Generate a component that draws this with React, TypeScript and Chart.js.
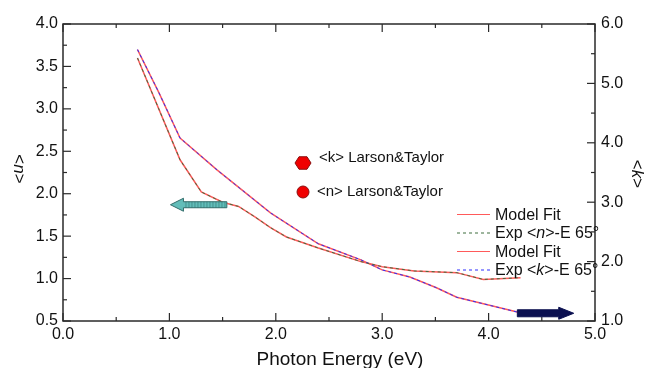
import React, { useEffect, useRef } from "react";
import { Chart, registerables } from "chart.js";
Chart.register(...registerables);

// ---- data ----
const energyN = [0.7, 0.9, 1.1, 1.3, 1.5, 1.65, 1.8, 1.95, 2.1, 2.4, 2.8, 3.0, 3.3, 3.7, 3.95, 4.3];
const nExp = [3.6, 3.0, 2.4, 2.02, 1.9, 1.85, 1.73, 1.6, 1.49, 1.36, 1.2, 1.14, 1.09, 1.07, 0.99, 1.01];
const nFit = [3.6, 3.0, 2.4, 2.02, 1.9, 1.85, 1.73, 1.6, 1.49, 1.36, 1.2, 1.14, 1.09, 1.07, 0.99, 1.01];
const energyK = [0.7, 0.9, 1.1, 1.45, 1.95, 2.4, 2.8, 3.0, 3.26, 3.51, 3.7, 4.27];
const kExp = [5.57, 4.85, 4.08, 3.54, 2.82, 2.3, 2.03, 1.86, 1.74, 1.56, 1.4, 1.15];
const kFit = [5.57, 4.85, 4.08, 3.54, 2.82, 2.3, 2.03, 1.86, 1.74, 1.56, 1.4, 1.15];

const xRange = [0, 5];
const nRange = [0.5, 4.0];
const kRange = [1.0, 6.0];

const legendLabels = ["Model Fit", "Exp <n>-E 65°", "Model Fit", "Exp <k>-E 65°"];
const refLabels = ["<k> Larson&Taylor", "<n> Larson&Taylor"];

const FONT = '"Liberation Sans", Arial, Helvetica, sans-serif';
const RED = "#ff5a5a";
const GREEN = "#3f6f3f";
const BLUE = "#2e2eff";

function drawMixed(ctx: CanvasRenderingContext2D, parts: [string, boolean][], x: number, y: number, size: number) {
  let cx = x;
  for (const [t, it] of parts) {
    ctx.font = `${it ? "italic " : ""}${size}px ${FONT}`;
    ctx.fillText(t, cx, y);
    cx += ctx.measureText(t).width;
  }
  return cx - x;
}
function mixedWidth(ctx: CanvasRenderingContext2D, parts: [string, boolean][], size: number) {
  let w = 0;
  for (const [t, it] of parts) {
    ctx.font = `${it ? "italic " : ""}${size}px ${FONT}`;
    w += ctx.measureText(t).width;
  }
  return w;
}
function splitItalic(s: string): [string, boolean][] {
  const m = s.match(/^(.*<)([nk])(>.*)$/);
  if (!m) return [[s, false]];
  return [[m[1], false], [m[2], true], [m[3], false]];
}

const decorPlugin = {
  id: "decor",
  afterDraw(chart: any) {
    const ctx: CanvasRenderingContext2D = chart.ctx;
    const { left, right, top, bottom } = chart.chartArea;
    const xs = chart.scales.x, ys = chart.scales.y, y2 = chart.scales.y2;
    ctx.save();
    const line = (a: number, b: number, c: number, d: number) => {
      ctx.beginPath(); ctx.moveTo(a, b); ctx.lineTo(c, d); ctx.stroke();
    };
    // frame
    ctx.strokeStyle = "#2a2a2a";
    ctx.lineWidth = 1.5;
    ctx.strokeRect(left, top, right - left, bottom - top);
    ctx.lineWidth = 1.2;
    for (let v = xRange[0]; v <= xRange[1] + 1e-6; v += 0.5) {
      const px = xs.getPixelForValue(v);
      const L = Math.abs(v - Math.round(v)) < 1e-6 ? 8 : 4;
      line(px, bottom, px, bottom - L);
      line(px, top, px, top + L);
    }
    for (let v = nRange[0]; v <= nRange[1] + 1e-6; v += 0.25) {
      const py = ys.getPixelForValue(v);
      const L = Math.abs(v * 2 - Math.round(v * 2)) < 1e-6 ? 8 : 4;
      line(left, py, left + L, py);
    }
    for (let v = kRange[0]; v <= kRange[1] + 1e-6; v += 0.5) {
      const py = y2.getPixelForValue(v);
      const L = Math.abs(v - Math.round(v)) < 1e-6 ? 8 : 4;
      line(right, py, right - L, py);
    }

    ctx.fillStyle = "#111";
    ctx.textBaseline = "alphabetic";
    // x title
    ctx.font = `19px ${FONT}`;
    ctx.textAlign = "center";
    ctx.fillText("Photon Energy (eV)", 340, 365);
    ctx.textAlign = "left";
    // y titles (rotated clockwise)
    const yTitle = (txt: string, cx: number, cy: number) => {
      ctx.save();
      ctx.translate(cx, cy);
      ctx.rotate(Math.PI / 2);
      ctx.textBaseline = "middle";
      const parts = splitItalic(txt);
      const w = mixedWidth(ctx, parts, 17);
      drawMixed(ctx, parts, -w / 2, 0, 17);
      ctx.restore();
    };
    yTitle("<n>", 19, 169);
    yTitle("<k>", 637, 174);

    // legend
    const rowsY = [214.5, 233, 251.5, 270];
    const styles = [
      { c: RED, d: [] as number[] },
      { c: GREEN, d: [3, 3] },
      { c: RED, d: [] as number[] },
      { c: BLUE, d: [3, 3] },
    ];
    ctx.textBaseline = "middle";
    legendLabels.forEach((lab, i) => {
      ctx.strokeStyle = styles[i].c;
      ctx.lineWidth = 1;
      ctx.setLineDash(styles[i].d);
      line(457, rowsY[i], 490, rowsY[i]);
      ctx.setLineDash([]);
      ctx.fillStyle = "#111";
      drawMixed(ctx, splitItalic(lab), 495, rowsY[i] + 1, 16);
    });

    // Larson & Taylor markers
    const hx = 303, hy = 163, hr = 8;
    ctx.beginPath();
    for (let i = 0; i < 6; i++) {
      const a = (Math.PI / 3) * i;
      const px = hx + hr * Math.cos(a), py = hy + hr * 0.9 * Math.sin(a);
      if (i === 0) ctx.moveTo(px, py); else ctx.lineTo(px, py);
    }
    ctx.closePath();
    ctx.fillStyle = "#f00000";
    ctx.fill();
    ctx.strokeStyle = "#8a1010";
    ctx.lineWidth = 1;
    ctx.stroke();
    ctx.beginPath();
    ctx.arc(303, 192, 6, 0, Math.PI * 2);
    ctx.fill();
    ctx.stroke();
    ctx.fillStyle = "#111";
    ctx.font = `15px ${FONT}`;
    ctx.fillText(refLabels[0], 319, 158);
    ctx.fillText(refLabels[1], 317, 192);

    // arrows
    const arrow = (x0: number, x1: number, y: number, body: number, head: number, headLen: number, fill: string, stroke: string, stripes: string | null) => {
      const dir = Math.sign(x1 - x0);
      const hb = x1 - dir * headLen;
      const path = () => {
        ctx.beginPath();
        ctx.moveTo(x0, y - body / 2);
        ctx.lineTo(hb, y - body / 2);
        ctx.lineTo(hb, y - head / 2);
        ctx.lineTo(x1, y);
        ctx.lineTo(hb, y + head / 2);
        ctx.lineTo(hb, y + body / 2);
        ctx.lineTo(x0, y + body / 2);
        ctx.closePath();
      };
      path();
      ctx.fillStyle = fill;
      ctx.fill();
      if (stripes) {
        ctx.strokeStyle = stripes;
        ctx.lineWidth = 1;
        const a = Math.min(x0, hb), b = Math.max(x0, hb);
        for (let sx = a + 2; sx < b; sx += 3) line(sx + 0.5, y - body / 2, sx + 0.5, y + body / 2);
      }
      ctx.strokeStyle = stroke;
      ctx.lineWidth = 1;
      path();
      ctx.stroke();
    };
    arrow(xs.getPixelForValue(1.54), xs.getPixelForValue(1.01), ys.getPixelForValue(1.87), 6, 13, 13, "#62bdb9", "#336d6b", "#47928f");
    arrow(xs.getPixelForValue(4.27), xs.getPixelForValue(4.8), y2.getPixelForValue(1.13), 7, 12, 15, "#0b1050", "#0b1050", null);
    ctx.restore();
  },
};

export default function App() {
  const ref = useRef<HTMLCanvasElement>(null);
  useEffect(() => {
    if (!ref.current) return;
    const pts = (xs: number[], ys: number[]) => xs.map((x, i) => ({ x, y: ys[i] }));
    const chart = new Chart(ref.current, {
      type: "line",
      data: {
        datasets: [
          { label: "Exp n", data: pts(energyN, nExp), yAxisID: "y", borderColor: GREEN, borderWidth: 1, borderDash: [3, 3], pointRadius: 0, tension: 0, order: 1 },
          { label: "Exp k", data: pts(energyK, kExp), yAxisID: "y2", borderColor: BLUE, borderWidth: 1, borderDash: [3, 3], pointRadius: 0, tension: 0, order: 1 },
          { label: "Model Fit n", data: pts(energyN, nFit), yAxisID: "y", borderColor: RED, borderWidth: 1.5, pointRadius: 0, tension: 0, order: 2 },
          { label: "Model Fit k", data: pts(energyK, kFit), yAxisID: "y2", borderColor: RED, borderWidth: 1.5, pointRadius: 0, tension: 0, order: 2 },
        ],
      },
      options: {
        animation: false,
        responsive: false,
        devicePixelRatio: 1,
        layout: { padding: { top: 24, left: 0, right: 0, bottom: 0 } },
        plugins: { legend: { display: false }, tooltip: { enabled: false } },
        scales: {
          x: {
            type: "linear", position: "bottom", min: xRange[0], max: xRange[1],
            grid: { display: false, drawTicks: false }, border: { display: false },
            ticks: { stepSize: 1, padding: 4, color: "#111", font: { family: FONT, size: 16 }, callback: (v: any) => Number(v).toFixed(1), maxRotation: 0 },
            afterFit: (s: any) => { s.height = 47; },
          },
          y: {
            type: "linear", position: "left", min: nRange[0], max: nRange[1],
            grid: { display: false, drawTicks: false }, border: { display: false },
            ticks: { stepSize: 0.5, padding: 5, color: "#111", font: { family: FONT, size: 16 }, callback: (v: any) => Number(v).toFixed(1) },
            afterFit: (s: any) => { s.width = 63; },
          },
          y2: {
            type: "linear", position: "right", min: kRange[0], max: kRange[1],
            grid: { display: false, drawTicks: false }, border: { display: false },
            ticks: { stepSize: 1, padding: 6, color: "#111", font: { family: FONT, size: 16 }, callback: (v: any) => Number(v).toFixed(1) },
            afterFit: (s: any) => { s.width = 53; },
          },
        },
      },
      plugins: [decorPlugin],
    } as any);
    return () => chart.destroy();
  }, []);
  return (
    <div style={{ position: "fixed", left: 0, top: 0, width: 648, height: 368, background: "#fff" }}>
      <canvas ref={ref} width={648} height={368} style={{ display: "block" }} />
    </div>
  );
}
